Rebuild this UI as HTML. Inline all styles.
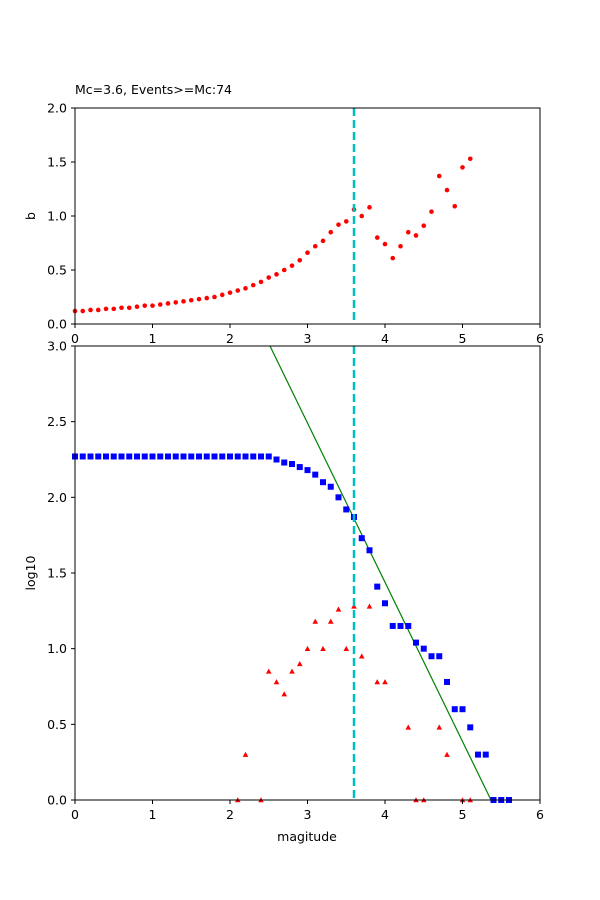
<!DOCTYPE html>
<html><head><meta charset="utf-8"><style>body{margin:0;background:#fff}svg{display:block}text{font-family:"DejaVu Sans","Liberation Sans",sans-serif;font-size:12.5px;fill:#000}</style></head>
<body>
<svg id="s" width="600" height="900" xmlns="http://www.w3.org/2000/svg"></svg>
<script>
const s=document.getElementById('s');let h='';
const X=m=>75+m*77.5;
const Yt=v=>324-v*108, Yb=v=>800-v*151.33;
h+='<text x="75" y="94">Mc=3.6, Events&gt;=Mc:74</text>';
const b=[0.12,0.12,0.13,0.13,0.14,0.14,0.15,0.15,0.16,0.17,0.17,0.18,0.19,0.20,0.21,0.22,0.23,0.24,0.25,0.27,0.29,0.31,0.33,0.36,0.39,0.43,0.46,0.50,0.54,0.59,0.66,0.72,0.77,0.85,0.92,0.95,1.06,1.00,1.08,0.80,0.74,0.61,0.72,0.85,0.82,0.91,1.04,1.37,1.24,1.09,1.45,1.53];
b.forEach((v,i)=>{h+=`<circle cx="${X(i/10)}" cy="${Yt(v)}" r="2.3" fill="#f00"/>`});
h+=`<line x1="${X(3.6)}" y1="108" x2="${X(3.6)}" y2="324" stroke="#00bfbf" stroke-width="2.5" stroke-dasharray="8,4"/>`;
h+='<rect x="75" y="108" width="465" height="216" fill="none" stroke="#000" stroke-width="1"/>';
for(let v=0;v<=2;v+=0.5){const y=Yt(v);h+=`<line x1="71" x2="75" y1="${y}" y2="${y}" stroke="#000"/><text x="67" y="${y+4.5}" text-anchor="end">${v.toFixed(1)}</text>`}
for(let m=0;m<=6;m++){h+=`<line x1="${X(m)}" x2="${X(m)}" y1="324" y2="328" stroke="#000"/><text x="${X(m)}" y="343" text-anchor="middle">${m}</text>`}
h+='<text transform="translate(35,216) rotate(-90)" text-anchor="middle">b</text>';
const sq=[];for(let i=0;i<=22;i++)sq.push([i/10,2.27]);
[[2.3,2.27],[2.4,2.27],[2.5,2.27],[2.6,2.25],[2.7,2.23],[2.8,2.22],[2.9,2.20],[3.0,2.18],[3.1,2.15],[3.2,2.10],[3.3,2.07],[3.4,2.0],[3.5,1.92],[3.6,1.87],[3.7,1.73],[3.8,1.65],[3.9,1.41],[4.0,1.30],[4.1,1.15],[4.2,1.15],[4.3,1.15],[4.4,1.04],[4.5,1.0],[4.6,0.95],[4.7,0.95],[4.8,0.78],[4.9,0.60],[5.0,0.60],[5.1,0.48],[5.2,0.30],[5.3,0.30],[5.4,0],[5.5,0],[5.6,0]].forEach(p=>sq.push(p));
const tr=[[2.1,0],[2.2,0.30],[2.4,0],[2.5,0.85],[2.6,0.78],[2.7,0.70],[2.8,0.85],[2.9,0.90],[3.0,1.0],[3.1,1.18],[3.2,1.0],[3.3,1.18],[3.4,1.26],[3.5,1.0],[3.6,1.28],[3.7,0.95],[3.8,1.28],[3.9,0.78],[4.0,0.78],[4.3,0.48],[4.4,0],[4.5,0],[4.7,0.48],[4.8,0.30],[5.0,0],[5.1,0]];
tr.forEach(p=>{const x=X(p[0]),y=Yb(p[1]);h+=`<polygon points="${x-2.8},${y+2.3} ${x+2.8},${y+2.3} ${x},${y-2.8}" fill="#f00"/>`});
h+=`<line x1="270" y1="346" x2="491" y2="800" stroke="#008000" stroke-width="1.2"/>`;
sq.forEach(p=>{const x=X(p[0]),y=Yb(p[1]);h+=`<rect x="${x-3}" y="${y-3}" width="6" height="6" fill="#00f"/>`});
h+=`<line x1="${X(3.6)}" y1="346" x2="${X(3.6)}" y2="800" stroke="#00bfbf" stroke-width="2.5" stroke-dasharray="8,4"/>`;
h+='<rect x="75" y="346" width="465" height="454" fill="none" stroke="#000" stroke-width="1"/>';
for(let v=0;v<=3;v+=0.5){const y=Yb(v);h+=`<line x1="71" x2="75" y1="${y}" y2="${y}" stroke="#000"/><text x="67" y="${y+4.5}" text-anchor="end">${v.toFixed(1)}</text>`}
for(let m=0;m<=6;m++){h+=`<line x1="${X(m)}" x2="${X(m)}" y1="800" y2="804" stroke="#000"/><text x="${X(m)}" y="819" text-anchor="middle">${m}</text>`}
h+='<text x="307" y="841" text-anchor="middle">magitude</text>';
h+='<text transform="translate(35,573) rotate(-90)" text-anchor="middle">log10</text>';
s.innerHTML=h;
</script>
</body></html>
